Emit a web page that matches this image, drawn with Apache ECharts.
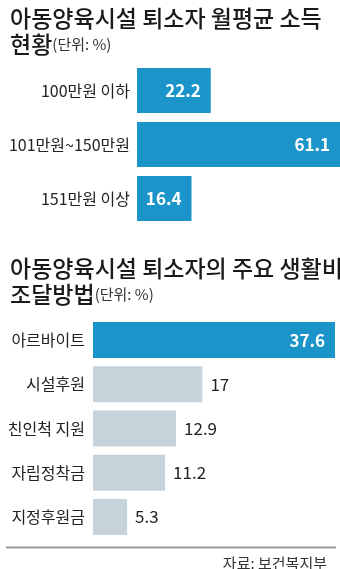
<!DOCTYPE html>
<html>
<head>
<meta charset="utf-8">
<script src="https://cdn.jsdelivr.net/npm/echarts@6/dist/echarts.min.js"></script>
<style>
	html, body { margin: 0; padding: 0; background: #fff; }
	#chart { width: 340px; height: 569px; }
</style>
</head>
<body>
<div id="chart"></div>
<script>
	// 월평균 소득
	var incomeCats = ['100만원 이하', '101만원~150만원', '151만원 이상'];
	var incomeVals = [22.2, 61.1, 16.4];
	// 생활비 조달방법
	var fundCats = ['아르바이트', '시설후원', '친인척 지원', '자립정착금', '지정후원금'];
	var fundVals = [37.6, 17, 12.9, 11.2, 5.3];

	var FONT = '"Noto Sans CJK KR", sans-serif';
	var BLUE = '#1b95c9';
	var GREY = '#c6d3da';

	var titleRich = {
		b: { fontSize: 23, fontWeight: 500, color: '#1a1a1a', lineHeight: 26, fontFamily: FONT },
		s: { fontSize: 15, fontWeight: 'normal', color: '#333', lineHeight: 26, fontFamily: FONT }
	};

	var myEchart = echarts.init(document.getElementById('chart'));
	var option = {
		animation: false,
		textStyle: { fontFamily: FONT },
		title: [{
			left: 5, top: 0,
			text: '{b|아동양육시설 퇴소자 월평균 소득}\n{b|현황}{s|(단위: %)}',
			textStyle: { rich: titleRich }
		}, {
			left: 5, top: 250,
			text: '{b|아동양육시설 퇴소자의 주요 생활비}\n{b|조달방법}{s|(단위: %)}',
			textStyle: { rich: titleRich }
		}, {
			right: 8, top: 551,
			text: '자료: 보건복지부',
			textStyle: { fontSize: 15, fontWeight: 'normal', color: '#333', fontFamily: FONT }
		}],
		graphic: [{
			type: 'line',
			shape: { x1: 6, y1: 547.5, x2: 336, y2: 547.5 },
			style: { stroke: '#999', lineWidth: 2 }
		}],
		grid: [
			{ left: 137, right: 0, top: 63.5, height: 162 },
			{ left: 93, right: 5, top: 318, height: 221 }
		],
		xAxis: [
			{ gridIndex: 0, type: 'value', min: 0, max: 61.1, show: false },
			{ gridIndex: 1, type: 'value', min: 0, max: 37.6, show: false }
		],
		yAxis: [{
			gridIndex: 0, type: 'category', data: incomeCats, inverse: true,
			axisLine: { show: false }, axisTick: { show: false },
			axisLabel: { fontSize: 16, color: '#222', margin: 7, fontFamily: FONT }
		}, {
			gridIndex: 1, type: 'category', data: fundCats, inverse: true,
			axisLine: { show: false }, axisTick: { show: false },
			axisLabel: { fontSize: 16, color: '#222', margin: 8, fontFamily: FONT }
		}],
		series: [{
			type: 'bar', xAxisIndex: 0, yAxisIndex: 0,
			data: incomeVals, barWidth: 45,
			itemStyle: { color: BLUE },
			label: {
				show: true, position: 'insideRight', distance: 10,
				color: '#fff', fontSize: 17, fontWeight: 'bold', fontFamily: FONT
			}
		}, {
			type: 'bar', xAxisIndex: 1, yAxisIndex: 1,
			data: fundVals.map(function (v, i) {
				if (i === 0) {
					return {
						value: v, itemStyle: { color: BLUE },
						label: { position: 'insideRight', color: '#fff', fontWeight: 'bold', distance: 10 }
					};
				}
				return v;
			}),
			barWidth: 36,
			itemStyle: { color: GREY },
			label: {
				show: true, position: 'right', distance: 8,
				color: '#222', fontSize: 17, fontFamily: FONT
			}
		}]
	};
	myEchart.setOption(option);
</script>
</body>
</html>
